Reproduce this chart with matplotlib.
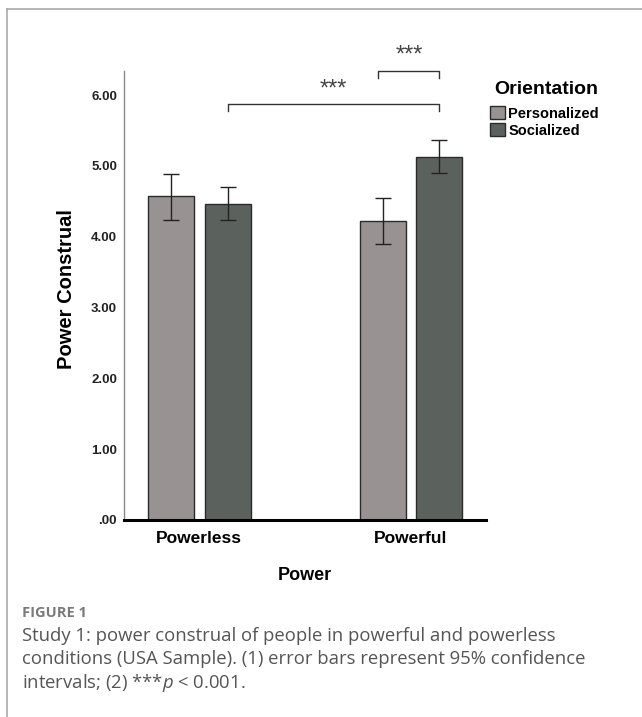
import numpy as np
from matplotlib import pyplot as plt
from matplotlib.patches import Patch
from matplotlib.lines import Line2D

plt.rcParams['font.family'] = ['Liberation Sans', 'DejaVu Sans']
plt.rcParams['mathtext.fontset'] = 'custom'
plt.rcParams['mathtext.it'] = 'Open Sans:italic'
plt.rcParams['mathtext.rm'] = 'Open Sans'

groups = ['Powerless', 'Powerful']
orientations = ['Personalized', 'Socialized']
means = {'Personalized': [4.57, 4.22], 'Socialized': [4.46, 5.13]}
ci_low = {'Personalized': [4.24, 3.90], 'Socialized': [4.23, 4.90]}
ci_high = {'Personalized': [4.89, 4.54], 'Socialized': [4.70, 5.36]}
yticks = [0, 1, 2, 3, 4, 5, 6]
yticklabels = ['.00', '1.00', '2.00', '3.00', '4.00', '5.00', '6.00']
bar_colors = {'Personalized': '#989392', 'Socialized': '#5b625d'}

W, H = 642, 717
fig = plt.figure(figsize=(W / 100, H / 100), dpi=100)

# outer frame of the figure panel
fig.add_artist(Line2D([7 / W, 1], [1 - 9 / H, 1 - 9 / H], color='#aaaaaa', lw=1.2))
fig.add_artist(Line2D([7 / W, 7 / W], [0, 1 - 9 / H], color='#aaaaaa', lw=1.2))

ax = fig.add_axes([124 / W, (H - 520) / H, (486 - 124) / W, (520 - 71) / H])

x = np.arange(len(groups))
width = 0.217
offset = 0.134
for i, o in enumerate(orientations):
    xs = x + (i * 2 - 1) * offset
    m = np.array(means[o])
    lo = m - np.array(ci_low[o])
    hi = np.array(ci_high[o]) - m
    ax.bar(xs, m, width, color=bar_colors[o], edgecolor='#2a2a2a', linewidth=1.0,
           label=o, zorder=2)
    ax.errorbar(xs, m, yerr=[lo, hi], fmt='none', ecolor='#222222', elinewidth=1.0,
                capsize=6, capthick=1.0, zorder=3)

ax.set_xlim(-0.355, 1.354)
ax.set_ylim(0, 6.34)
ax.set_yticks(yticks)
ax.set_yticklabels(yticklabels, fontsize=9.5, fontweight='bold', color='#222222')
ax.set_xticks(x)
ax.set_xticklabels(groups, fontsize=12.5, fontweight='bold')
ax.tick_params(axis='both', length=0)
ax.tick_params(axis='y', pad=5)
ax.tick_params(axis='x', pad=8)
for s in ['top', 'right']:
    ax.spines[s].set_visible(False)
ax.spines['left'].set_color('#888888')
ax.spines['left'].set_linewidth(1.0)
ax.spines['bottom'].set_color('black')
ax.spines['bottom'].set_linewidth(2.2)
ax.set_xlabel('Power', fontsize=13, fontweight='bold', labelpad=15)
fig.text(67 / W, 1 - 289 / H, 'Power Construal', rotation=90, fontsize=14.5,
         fontweight='bold', ha='center', va='center')

# significance brackets
def bracket(x1, x2, y, drop, label, ly):
    ax.plot([x1, x1, x2, x2], [y - drop, y, y, y - drop], color='#333333', lw=1.0,
            clip_on=False, zorder=4)
    ax.text((x1 + x2) / 2, ly, label, ha='center', va='center', fontsize=17,
            color='#444444', clip_on=False)

xs_soc = x + offset
xs_per = x - offset
bracket(xs_soc[0], xs_soc[1], 5.88, 0.11, '***', 6.08)
bracket(xs_per[1] - 0.02, xs_soc[1], 6.34, 0.1, '***', 6.56)

# legend
fig.text(494 / W, 1 - 89 / H, 'Orientation', fontsize=14, fontweight='bold',
         ha='left', va='center')
handles = [Patch(facecolor=bar_colors[o], edgecolor='#2a2a2a', label=o) for o in orientations]
leg = fig.legend(handles=handles, loc='upper left',
                 bbox_to_anchor=(490 / W, 1 - 106 / H), frameon=False,
                 prop={'weight': 'bold', 'size': 10.5},
                 handlelength=1.0, handleheight=1.0, handletextpad=0.25,
                 labelspacing=0.2, borderaxespad=0, borderpad=0)

cap_font = ['Open Sans', 'DejaVu Sans']
fig.text(22 / W, 1 - 613 / H, 'FIGURE 1', fontsize=10.5, fontweight='bold',
         color='#7a7a7a', family=cap_font, va='center')
caption = ['Study 1: power construal of people in powerful and powerless',
           'conditions (USA Sample). (1) error bars represent 95% confidence',
           'intervals; (2) ***$p$ < 0.001.']
for k, line in enumerate(caption):
    fig.text(22 / W, 1 - (636 + 23.5 * k) / H, line, fontsize=13.3, color='#555555',
             family=cap_font, va='center')

fig.savefig('out.png', dpi=100)
